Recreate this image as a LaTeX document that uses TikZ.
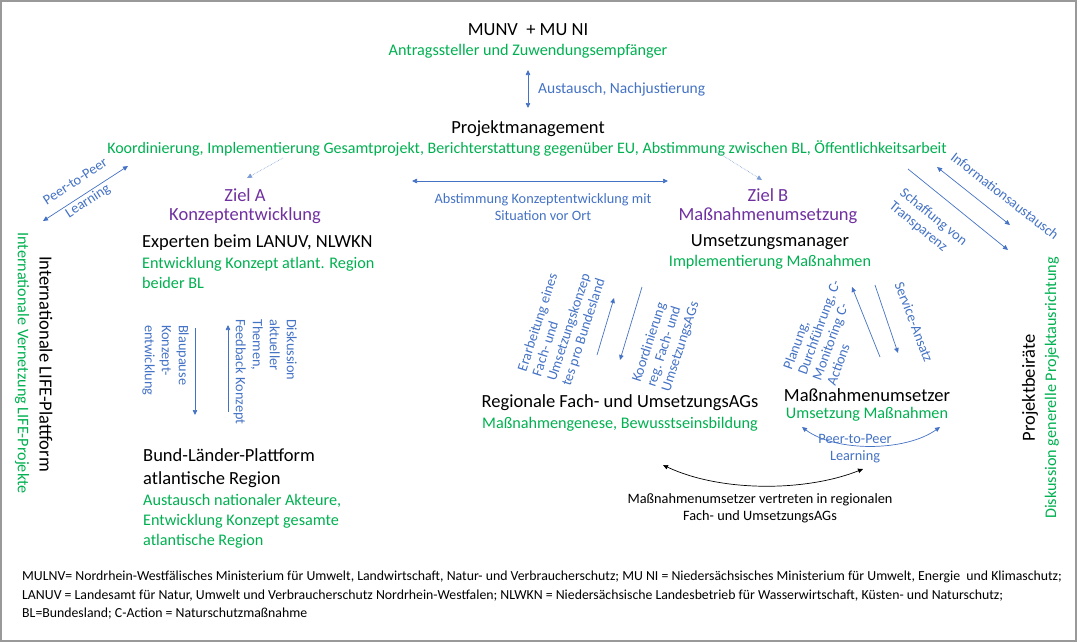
\documentclass[tikz,border=0pt]{standalone}
\usepackage{fontspec}
\setmainfont{Carlito}
\usetikzlibrary{arrows.meta}
\definecolor{cgrn}{HTML}{00B050}
\definecolor{cblu}{HTML}{4472C4}
\definecolor{cpur}{HTML}{7030A0}
\tikzset{
  blk/.style={inner sep=0pt,text=black,font=\fontsize{18.5}{23}\selectfont},
  grn/.style={inner sep=0pt,text=cgrn,font=\fontsize{16.2}{20}\selectfont},
  pur/.style={inner sep=0pt,text=cpur,font=\fontsize{18.5}{22}\selectfont},
  blu/.style={inner sep=0pt,text=cblu,font=\fontsize{14.3}{17}\selectfont},
  smb/.style={inner sep=0pt,text=black,font=\fontsize{14.3}{17}\selectfont},
  foot/.style={inner sep=0pt,text=black,font=\fontsize{13.8}{18.5}\selectfont},
  arr/.style={draw=cblu,line width=0.7pt,-{Triangle[length=5pt,width=4.5pt]}},
  darr/.style={draw=cblu,line width=0.7pt,{Triangle[length=5pt,width=4.5pt]}-{Triangle[length=5pt,width=4.5pt]}},
  dotarr/.style={draw=cblu!70,line width=0.6pt,densely dotted,-{Triangle[length=5pt,width=4.5pt]}},
}
\begin{document}
\begin{tikzpicture}[x=1pt,y=-1pt]
\useasboundingbox (0,0) rectangle (1080,643);
\draw[gray!80,line width=1.2pt] (1,1) rectangle (1076,641);

\node[blk] (munv) at (528,30) {MUNV\ \ + MU NI};
\node[grn] (munvg) at (528,51) {Antragssteller und Zuwendungsempfänger};
\coordinate (v1) at (528,70); \coordinate (v2) at (528,108);
\draw[darr] (v1) -- (v2);
\node[blu,anchor=west,font=\fontsize{15.5}{18}\selectfont] (aus) at (538,89) {Austausch, Nachjustierung};
\node[blk] (pm) at (528,129) {Projektmanagement};
\node[grn,font=\fontsize{16}{20}\selectfont] (pmg) at (527,148) {Koordinierung, Implementierung Gesamtprojekt, Berichterstattung gegenüber EU, Abstimmung zwischen BL, Öffentlichkeitsarbeit};

\coordinate (dl1) at (283,158); \coordinate (dl2) at (247,178);
\draw[dotarr] (dl1) -- (dl2);
\coordinate (dr1) at (717,152); \coordinate (dr2) at (762,180);
\draw[dotarr] (dr1) -- (dr2);

\node[pur] (za) at (245,195) {Ziel A};
\node[pur] (zat) at (245,216) {Konzeptentwicklung};
\node[pur] (zb) at (768,195) {Ziel B};
\node[pur] (zbt) at (768,216) {Maßnahmenumsetzung};

\coordinate (h1) at (412,181); \coordinate (h2) at (668,181);
\draw[darr] (h1) -- (h2);
\node[blu,align=center] (abst) at (543,207) {Abstimmung Konzeptentwicklung mit\\Situation vor Ort};

\node[blk,anchor=west] (exp) at (142,243) {Experten beim LANUV, NLWKN};
\node[grn,anchor=north west,align=left] (expg) at (142,257) {Entwicklung Konzept atlant. Region\\beider BL};

\node[blk] (um) at (770,242) {Umsetzungsmanager};
\node[grn] (umg) at (770,262) {Implementierung Maßnahmen};

% left international
\coordinate (p1) at (43,221); \coordinate (p2) at (128,166);
\draw[darr] (p1) -- (p2);
\node[blu,align=center,rotate=33] (ppl) at (82,192) {Peer-to-Peer\\[6pt]Learning};
\node[blk,rotate=-90] (int) at (46,364) {Internationale LIFE-Plattform};
\node[grn,rotate=-90] (intg) at (22,363) {Internationale Vernetzung LIFE-Projekte};

% Blaupause
\coordinate (b1) at (195,328); \coordinate (b2) at (195,415);
\draw[arr] (b1) -- (b2);
\coordinate (f1) at (228,412); \coordinate (f2) at (228,325);
\draw[arr] (f1) -- (f2);
\node[blu,rotate=-90,anchor=north west,align=left] (blau) at (189,325) {Blaupause\\Konzept-\\entwicklung};
\node[blu,rotate=-90,anchor=north west,align=left] (disk) at (297,319) {Diskussion\\aktueller\\Themen,\\Feedback Konzept};

\node[blk,anchor=north west,align=left] (bund) at (143,448) {Bund-Länder-Plattform\\atlantische Region};
\node[grn,anchor=north west,align=left] (bundg) at (143,494) {Austausch nationaler Akteure,\\Entwicklung Konzept gesamte\\atlantische Region};

% regional
\coordinate (r1) at (597,355); \coordinate (r2) at (614,298);
\draw[arr] (r1) -- (r2);
\coordinate (r3) at (642,287); \coordinate (r4) at (620,360);
\draw[arr] (r3) -- (r4);
\node[blu,rotate=72,align=left,font=\fontsize{14.3}{15.5}\selectfont] (erar) at (562,325) {Erarbeitung eines\\Fach- und\\Umsetzungskonzep\\tes pro Bundesland};
\node[blu,rotate=72,align=left,font=\fontsize{14.3}{15.5}\selectfont] (koord) at (666,342) {Koordinierung\\reg. Fach- und\\UmsetzungsAGs};
\node[blk] (reg) at (620,403) {Regionale Fach- und UmsetzungsAGs};
\node[grn] (regg) at (620,424) {Maßnahmengenese, Bewusstseinsbildung};

% massnahmen
\coordinate (m1) at (880,357); \coordinate (m2) at (852,287);
\draw[arr] (m1) -- (m2);
\coordinate (m3) at (875,285); \coordinate (m4) at (898,353);
\draw[arr] (m3) -- (m4);
\node[blu,rotate=70,align=left,font=\fontsize{14.3}{15.5}\selectfont] (plan) at (826,330) {Planung,\\Durchführung, C-\\Monitoring C-\\Actions};
\node[blu,rotate=-69] (serv) at (914,322) {Service-Ansatz};
\node[blk] (mu) at (867,395) {Maßnahmenumsetzer};
\node[grn] (mug) at (867,414) {Umsetzung Maßnahmen};

\coordinate (q1) at (802,427); \coordinate (q2) at (940,427);
\draw[darr] (q1) .. controls (835,452) and (905,452) .. (q2);
\node[blu,align=center] (ppl2) at (855,449) {Peer-to-Peer\\Learning};

\coordinate (k1) at (663,465); \coordinate (k2) at (863,469);
\draw[line width=0.7pt,{Triangle[length=5pt,width=4.5pt]}-{Triangle[length=5pt,width=4.5pt]}] (k1) .. controls (720,492) and (805,492) .. (k2);
\node[smb,align=center] (vert) at (760,508) {Maßnahmenumsetzer vertreten in regionalen\\Fach- und UmsetzungsAGs};

% right
\coordinate (i1) at (937,167); \coordinate (i2) at (1010,225);
\draw[darr] (i1) -- (i2);
\node[blu,rotate=-38] (info) at (1005,196) {Informationsaustausch};
\coordinate (s1) at (908,169); \coordinate (s2) at (1008,250);
\draw[arr] (s1) -- (s2);
\node[blu,rotate=-39,align=left] (schaff) at (928,224) {Schaffung von\\Transparenz};
\node[blk,rotate=90] (beir) at (1030,388) {Projektbeiräte};
\node[grn,rotate=90] (beirg) at (1052,388) {Diskussion generelle Projektausrichtung};

\node[foot,anchor=north west,align=left] (fn) at (22,571) {MULNV= Nordrhein-Westfälisches Ministerium für Umwelt, Landwirtschaft, Natur- und Verbraucherschutz; MU NI = Niedersächsisches Ministerium für Umwelt, Energie\ \ und Klimaschutz;\\LANUV = Landesamt für Natur, Umwelt und Verbraucherschutz Nordrhein-Westfalen; NLWKN = Niedersächsische Landesbetrieb für Wasserwirtschaft, Küsten- und Naturschutz;\\BL=Bundesland; C-Action = Naturschutzmaßnahme};
\end{tikzpicture}
\end{document}
